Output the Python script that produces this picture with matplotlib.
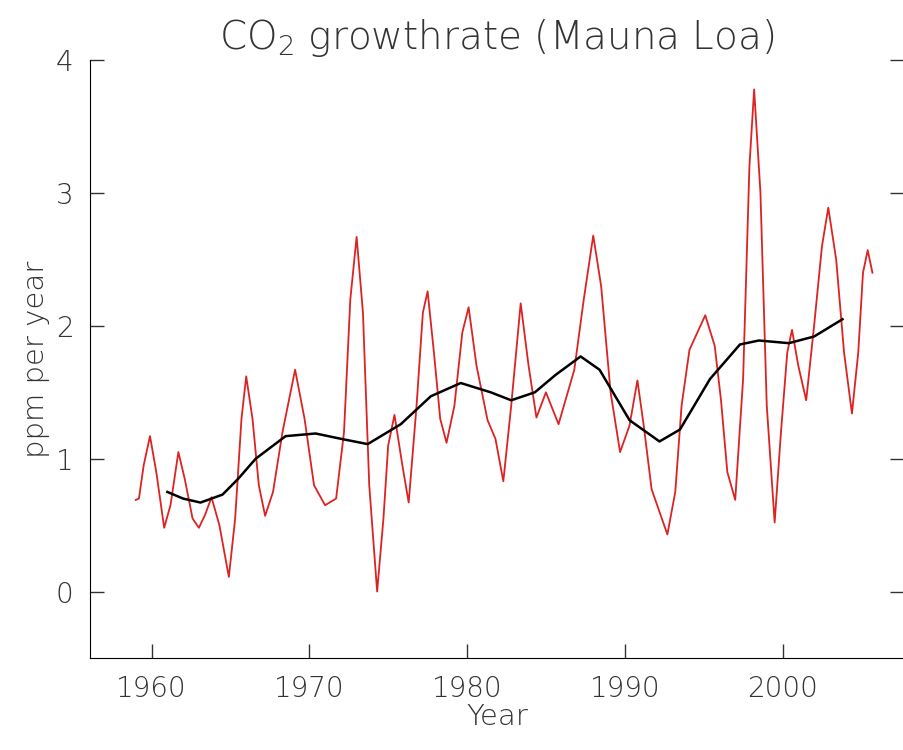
import matplotlib.pyplot as plt

# growth rate (red)
red_year = [1959.0, 1959.2, 1959.5, 1959.9, 1960.3, 1960.8, 1961.2, 1961.7, 1962.1, 1962.6,
            1963.0, 1963.4, 1963.8, 1964.3, 1964.9, 1965.3, 1965.7, 1966.0, 1966.4, 1966.8,
            1967.2, 1967.7, 1968.3, 1969.1, 1969.7, 1970.3, 1971.0, 1971.7, 1972.2, 1972.6,
            1973.0, 1973.4, 1973.8, 1974.3, 1974.7, 1975.0, 1975.4, 1975.9, 1976.3, 1976.8,
            1977.2, 1977.5, 1977.9, 1978.3, 1978.7, 1979.2, 1979.7, 1980.1, 1980.6, 1981.3,
            1981.8, 1982.3, 1982.8, 1983.4, 1983.9, 1984.4, 1985.0, 1985.8, 1986.8, 1987.4,
            1988.0, 1988.5, 1989.1, 1989.7, 1990.3, 1990.8, 1991.2, 1991.7, 1992.7, 1993.2,
            1993.6, 1994.1, 1995.1, 1995.7, 1996.1, 1996.5, 1997.0, 1997.5, 1997.9, 1998.2,
            1998.6, 1999.0, 1999.5, 1999.9, 2000.3, 2000.6, 2001.0, 2001.5, 2002.0, 2002.5,
            2002.9, 2003.4, 2003.9, 2004.4, 2004.8, 2005.1, 2005.4, 2005.7]
red_rate = [0.69, 0.70, 0.95, 1.17, 0.90, 0.48, 0.65, 1.05, 0.85, 0.55,
            0.48, 0.58, 0.71, 0.50, 0.11, 0.55, 1.30, 1.62, 1.30, 0.80,
            0.57, 0.75, 1.20, 1.67, 1.30, 0.80, 0.65, 0.70, 1.20, 2.20,
            2.67, 2.10, 0.80, 0.00, 0.55, 1.10, 1.33, 0.95, 0.67, 1.40,
            2.10, 2.26, 1.80, 1.30, 1.12, 1.40, 1.95, 2.14, 1.70, 1.29,
            1.15, 0.83, 1.40, 2.17, 1.70, 1.31, 1.50, 1.26, 1.67, 2.20,
            2.68, 2.30, 1.50, 1.05, 1.25, 1.59, 1.25, 0.77, 0.43, 0.75,
            1.40, 1.82, 2.08, 1.85, 1.44, 0.90, 0.69, 1.60, 3.20, 3.78,
            3.00, 1.40, 0.52, 1.20, 1.80, 1.97, 1.70, 1.44, 2.00, 2.60,
            2.89, 2.50, 1.80, 1.34, 1.80, 2.40, 2.57, 2.40]

# smoothed trend (black)
trend_year = [1961.0, 1962.0, 1963.1, 1964.5, 1965.5, 1966.6, 1968.5, 1970.4, 1972.0, 1973.7,
              1975.8, 1977.7, 1979.6, 1981.5, 1982.8, 1984.3, 1985.6, 1987.2, 1988.4, 1990.3,
              1992.2, 1993.5, 1995.4, 1997.3, 1998.5, 2000.4, 2002.0, 2003.8]
trend_rate = [0.75, 0.70, 0.67, 0.73, 0.85, 1.00, 1.17, 1.19, 1.15, 1.11,
              1.26, 1.47, 1.57, 1.50, 1.44, 1.50, 1.63, 1.77, 1.67, 1.29,
              1.13, 1.22, 1.60, 1.86, 1.89, 1.87, 1.92, 2.05]

grey = '#333333'
plt.rcParams['font.family'] = 'DejaVu Sans'
plt.rcParams['font.weight'] = 'light'

fig = plt.figure(figsize=(9.04, 7.5), dpi=100)
ax = fig.add_axes([0.0996, 0.1227, 0.9004, 0.797])
ax.plot(red_year, red_rate, color='#dd2222', lw=1.3)
ax.plot(trend_year, trend_rate, color='black', lw=1.8)

ax.set_xlim(1956.1, 2007.7)
ax.set_ylim(-0.5, 4)
ax.set_xticks([1960, 1970, 1980, 1990, 2000])
ax.set_yticks([0, 1, 2, 3, 4])
ax.spines['top'].set_visible(False)
ax.spines['right'].set_visible(False)
ax.tick_params(direction='in', length=10, right=True, labelsize=20, colors=grey, width=1, pad=12)
ax.set_xlabel('Year', fontsize=21, color=grey, labelpad=0, fontweight='light')
ax.set_ylabel('ppm per year', fontsize=21, color=grey, fontweight='light')
ax.set_title('CO$_2$ growthrate (Mauna Loa)', fontsize=28, color=grey, pad=8, fontweight='light')

fig.savefig('out.png')
